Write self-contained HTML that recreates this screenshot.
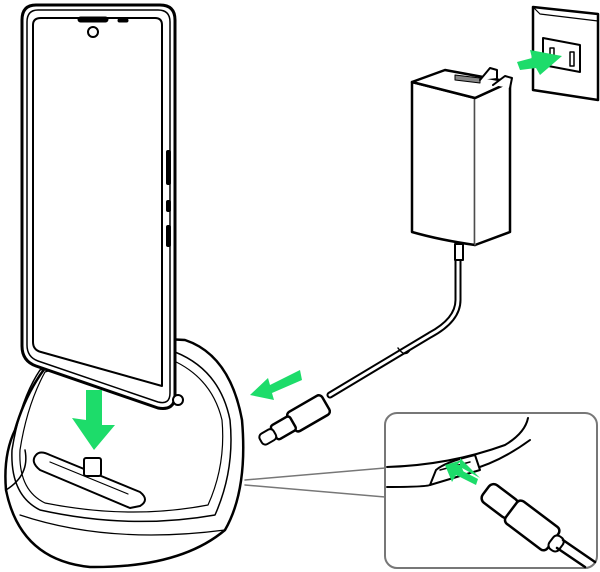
<!DOCTYPE html>
<html><head><style>body{margin:0;background:#fff}svg{display:block}</style></head><body>
<svg width="600" height="572" viewBox="0 0 600 572" xmlns="http://www.w3.org/2000/svg" fill="none" stroke="#000" stroke-linejoin="round" stroke-linecap="round">
<!-- dock body -->
<path d="M45 368 Q110 335 185 340 Q230 355 242 420 Q248 490 225 530 Q180 568 90 567 Q20 560 6 490 Q3 455 15 430 Q25 395 45 368 Z" fill="#fff" stroke-width="2.5"/>
<path d="M40 370 Q100 345 175 352 Q220 370 230 420 Q235 470 215 515 Q130 530 40 510 Q10 495 12 450 Q20 400 40 370 Z" stroke-width="1.5"/>
<path d="M45 372 Q105 352 172 360 Q212 378 222 420 Q226 465 208 505 Q130 520 45 503 Q18 490 20 450 Q27 405 45 372 Z" stroke-width="1.2"/>
<path d="M6 490 Q30 475 25 450" stroke-width="1.5"/>
<path d="M20 515 Q110 545 225 530" stroke-width="1.2"/>
<!-- slot -->
<path d="M36 455 Q40 450 50 455 L140 492 Q150 500 140 506 L130 508 L40 470 Q30 462 36 455Z" fill="#fff" stroke-width="2"/>
<path d="M50 462 L128 494" stroke-width="1.2"/>
<rect x="84" y="458" width="17" height="18" rx="2" fill="#fff" stroke-width="2"/>
<!-- phone -->
<path d="M36 5 L160 5 Q175 5 175 20 L175 395 Q175 411 158 408 L36 366 Q22 361 22 346 L22 20 Q22 5 36 5 Z" fill="#fff" stroke-width="3"/>
<path d="M38 10 L158 10 Q170 10 170 22 L170 393 Q170 405 158 402 L38 361 Q27 357 27 345 L27 22 Q27 10 38 10 Z" stroke-width="1.5"/>
<path d="M41 18 L155 18 Q162 18 162 25 L162 386 L41 352 Q33 350 33 342 L33 25 Q33 18 41 18 Z" stroke-width="2"/>
<rect x="78" y="17" width="30" height="5" rx="2.5" fill="#000"/>
<circle cx="93" cy="32" r="5" stroke-width="2"/>
<rect x="118" y="19" width="10" height="3" rx="1.5" fill="#000"/>
<rect x="166" y="150" width="5" height="35" rx="2" fill="#000" stroke="none"/>
<rect x="166" y="200" width="5" height="12" rx="2" fill="#000" stroke="none"/>
<rect x="166" y="225" width="5" height="22" rx="2" fill="#000" stroke="none"/>
<circle cx="178" cy="400" r="5" stroke-width="2" fill="#fff"/>
<!-- down arrow -->
<path d="M86 390 L102 390 L102 425 L115 425 L94 450 L72 418 L86 420 Z" fill="#1ddc6a" stroke="none"/>
<!-- outlet -->
<path d="M533 7 L598 14 L598 100 L533 90 Z" fill="#fff" stroke-width="2.5"/>
<path d="M533 7 L540 14 L598 21" stroke-width="1.2"/>
<path d="M543 38 L580 45 L580 72 L543 65 Z" stroke-width="2"/>
<rect x="550" y="48" width="4" height="10" fill="none" stroke-width="1.5"/><rect x="570" y="52" width="4" height="14" stroke-width="1.5"/>
<!-- adapter -->
<path d="M412 82 L475 98 L475 245 Q440 240 412 232 Z" fill="#fff" stroke-width="2.5"/>
<path d="M475 98 L510 82 L510 232 L475 245" fill="#fff" stroke-width="2.5"/>
<path d="M475 98 L475 245" stroke="#999" stroke-width="1"/>
<path d="M412 82 L445 70 L510 82 L475 98 Z" fill="#fff" stroke-width="2.5"/>
<path d="M455 75 L480 78 L480 83 L455 80Z" fill="#888" stroke-width="1"/>
<path d="M480 80 L490 68 L497 70 L497 78 M493 85 L505 76 L512 78 L510 88" fill="#fff" stroke-width="2"/>
<path d="M517 62 L532 58 L530 50 L562 56 L540 75 L536 68 L520 70 Z" fill="#1ddc6a" stroke="none"/>
<!-- cable -->
<path d="M458 245 L458 300 Q458 320 430 335 L330 395" stroke-width="7"/>
<path d="M458 245 L458 300 Q458 320 430 335 L330 395" stroke="#fff" stroke-width="3"/>
<rect x="455" y="244" width="8" height="16" fill="#fff" stroke-width="2"/>
<path d="M398 348 Q405 358 410 350" stroke-width="1.5"/>
<!-- usb plug -->
<g transform="rotate(-30 295 420)">
<rect x="290" y="410" width="40" height="22" rx="4" fill="#fff" stroke-width="2.5"/>
<rect x="270" y="413" width="22" height="16" rx="3" fill="#fff" stroke-width="2.5"/>
<rect x="255" y="415" width="16" height="12" rx="4" fill="#fff" stroke-width="2"/>
</g>
<path d="M300 370 L270 385 L268 378 L250 395 L274 400 L272 393 L302 380 Z" fill="#1ddc6a" stroke="none"/>
<!-- callout lines -->
<path d="M245 480 L385 468 M245 485 L385 497" stroke="#777" stroke-width="1.5"/>
<!-- inset -->
<rect x="385" y="413" width="212" height="155" rx="12" fill="#fff" stroke="#777" stroke-width="2"/>
<path d="M387 467 Q450 465 505 445 Q525 433 528 418" stroke-width="2"/>
<path d="M387 487 Q425 487 430 485 M470 470 Q500 462 530 440" stroke-width="2"/>
<path d="M430 485 L436 470 Q445 462 475 455 L480 470 Z" fill="#fff" stroke-width="2"/>
<path d="M440 470 L470 462" stroke-width="1.5"/>
<g transform="rotate(37 520 515)">
<rect x="478" y="505" width="35" height="22" rx="6" fill="#fff" stroke-width="2.5"/>
<rect x="510" y="502" width="52" height="28" rx="5" fill="#fff" stroke-width="2.5"/>
<rect x="560" y="508" width="12" height="16" rx="5" fill="#fff" stroke-width="2"/>
</g>
<path d="M563 540 L595 562 M557 548 L585 567" stroke-width="2.5"/>
<path d="M480 478 L462 468 L465 475 L452 475 L456 468 L447 465 L460 465 L460 458 Z" fill="#1ddc6a" stroke="none"/>
<path d="M478 479 L455 467 L462 460 L445 465 L452 482 L456 475 L476 485 Z" fill="#1ddc6a" stroke="none"/>
</svg>
</body></html>
